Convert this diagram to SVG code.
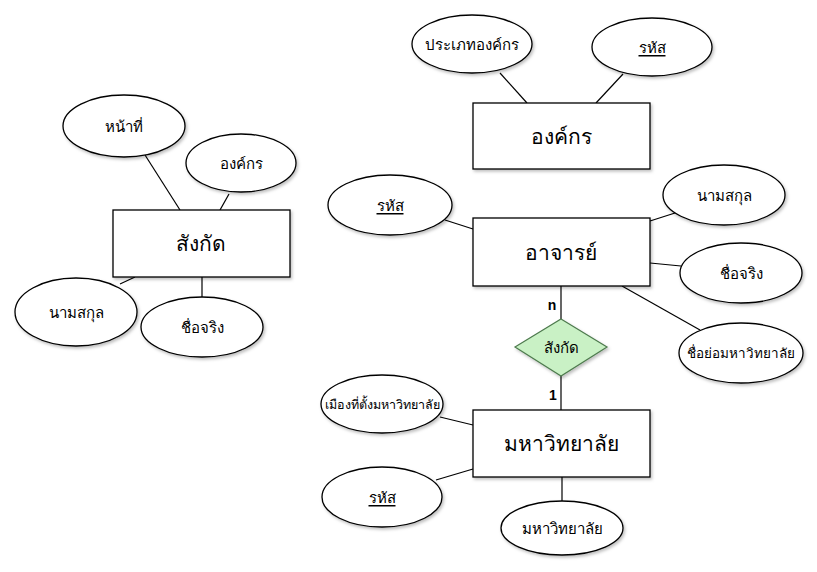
<svg xmlns="http://www.w3.org/2000/svg" width="817" height="572" viewBox="0 0 817 572">
<defs>
<filter id="sh" x="-20%" y="-20%" width="140%" height="150%">
<feDropShadow dx="1.5" dy="2" stdDeviation="1.5" flood-color="#000" flood-opacity="0.25"/>
</filter>
</defs>
<style>
.e{fill:#fff;stroke:#000;stroke-width:1.3;filter:url(#sh)}
.r{fill:#fff;stroke:#000;stroke-width:1.3;filter:url(#sh)}
.d{fill:#c9f1c5;stroke:#4d7a4d;stroke-width:1.2;filter:url(#sh)}
.t{font-family:"Noto Sans","DejaVu Sans",Tahoma,sans-serif;font-size:15px;font-weight:500;text-anchor:middle;dominant-baseline:central;fill:#000}
.tb{font-family:"Noto Sans","DejaVu Sans",Tahoma,sans-serif;font-size:21px;font-weight:500;text-anchor:middle;dominant-baseline:central;fill:#000}
.ts{font-family:"Noto Sans","DejaVu Sans",Tahoma,sans-serif;font-size:13.5px;font-weight:500;text-anchor:middle;dominant-baseline:central;fill:#000}
.u{text-decoration:underline}
.c{stroke:#000;stroke-width:1.2;fill:none}
.lb{font-family:"Liberation Sans",Arial,sans-serif;font-size:14px;font-weight:bold;text-anchor:middle;fill:#000}
</style>
<g id="connectors">
<line class="c" x1="145" y1="155" x2="180" y2="210"/>
<line class="c" x1="229" y1="194" x2="220" y2="210"/>
<line class="c" x1="120" y1="284" x2="135" y2="277"/>
<line class="c" x1="202" y1="277" x2="202" y2="297"/>
<line class="c" x1="500" y1="73" x2="527" y2="103"/>
<line class="c" x1="623" y1="74" x2="596" y2="103"/>
<line class="c" x1="445" y1="220" x2="473" y2="229"/>
<line class="c" x1="650" y1="221" x2="675" y2="213"/>
<line class="c" x1="650" y1="263" x2="681" y2="266"/>
<line class="c" x1="622" y1="286" x2="700" y2="330"/>
<line class="c" x1="561" y1="286" x2="561" y2="319"/>
<line class="c" x1="561" y1="376" x2="561" y2="410"/>
<line class="c" x1="440" y1="417" x2="473" y2="425"/>
<line class="c" x1="436" y1="480" x2="473" y2="469"/>
<line class="c" x1="562" y1="477" x2="562" y2="502"/>
<text class="lb" x="552" y="310">n</text>
<text class="lb" x="553" y="400">1</text>
</g>
<g id="left-hnathi"><ellipse class="e" cx="124" cy="126" rx="61" ry="31"/><text class="t" x="124" y="126">หน้าที่</text></g>
<g id="left-ongkon"><ellipse class="e" cx="241" cy="163" rx="55" ry="29"/><text class="t" x="241" y="163">องค์กร</text></g>
<g id="sangkat-entity"><rect class="r" x="113" y="210" width="177" height="67"/><text class="tb" x="201" y="243">สังกัด</text></g>
<g id="left-namsakun"><ellipse class="e" cx="76" cy="312" rx="61" ry="34"/><text class="t" x="76" y="312">นามสกุล</text></g>
<g id="left-chuejing"><ellipse class="e" cx="202" cy="327" rx="61" ry="30"/><text class="t" x="202" y="327">ชื่อจริง</text></g>

<g id="prapet-ongkon"><ellipse class="e" cx="472" cy="44" rx="60" ry="29"/><text class="t" x="472" y="44">ประเภทองค์กร</text></g>
<g id="ongkon-rahat"><ellipse class="e" cx="652" cy="47" rx="60" ry="29"/><text class="t u" x="652" y="47">รหัส</text></g>
<g id="ongkon"><rect class="r" x="473" y="103" width="177" height="66"/><text class="tb" x="561" y="136">องค์กร</text></g>

<g id="ajarn-rahat"><ellipse class="e" cx="390" cy="205" rx="62" ry="30"/><text class="t u" x="390" y="205">รหัส</text></g>
<g id="ajarn"><rect class="r" x="473" y="218" width="177" height="68"/><text class="tb" x="561" y="252">อาจารย์</text></g>
<g id="ajarn-namsakun"><ellipse class="e" cx="724" cy="195" rx="61" ry="30"/><text class="t" x="724" y="195">นามสกุล</text></g>
<g id="ajarn-chuejing"><ellipse class="e" cx="741" cy="273" rx="61" ry="30"/><text class="t" x="741" y="273">ชื่อจริง</text></g>
<g id="ajarn-chueyo"><ellipse class="e" cx="741" cy="353" rx="62" ry="30"/><text class="ts" x="741" y="353">ชื่อย่อมหาวิทยาลัย</text></g>

<g id="sangkat-rel"><polygon class="d" points="561,319 607,347 561,376 515,347"/><text class="t" x="561" y="347">สังกัด</text></g>

<g id="mueang"><ellipse class="e" cx="382" cy="404" rx="61" ry="29"/><text class="ts" x="382" y="404" style="font-size:12.5px">เมืองที่ตั้งมหาวิทยาลัย</text></g>
<g id="mahawitthayalai"><rect class="r" x="473" y="410" width="177" height="67"/><text class="tb" x="561" y="443">มหาวิทยาลัย</text></g>
<g id="mhw-rahat"><ellipse class="e" cx="382" cy="497" rx="60" ry="30"/><text class="t u" x="382" y="497">รหัส</text></g>
<g id="mhw-name"><ellipse class="e" cx="562" cy="528" rx="61" ry="27"/><text class="t" x="562" y="528">มหาวิทยาลัย</text></g>
</svg>
